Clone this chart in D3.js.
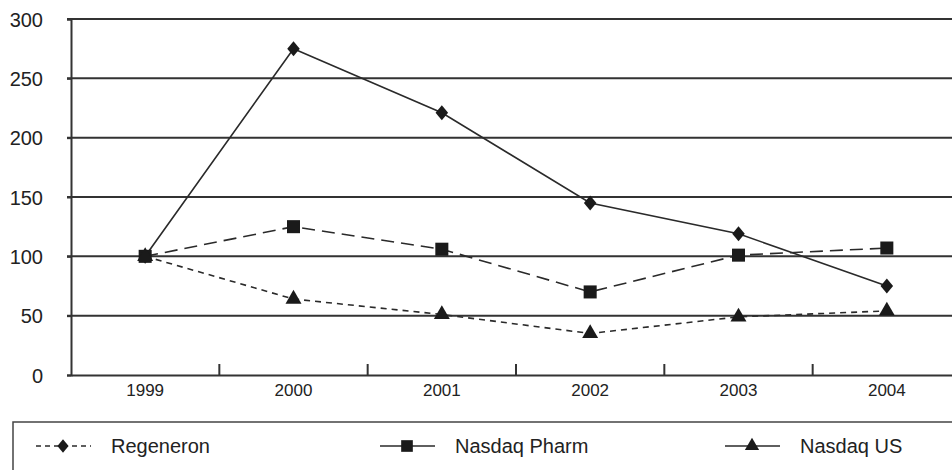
<!DOCTYPE html>
<html>
<head>
<meta charset="utf-8">
<script src="https://cdn.jsdelivr.net/npm/d3@7.9.0/dist/d3.min.js"></script>
<style>
  body { margin: 0; background: #fff; }
  svg { display: block; font-family: 'Liberation Sans', Arial, sans-serif; }
</style>
</head>
<body>
<svg id="chart" width="952" height="470"></svg>
<script>
// values
const years = ['1999', '2000', '2001', '2002', '2003', '2004'];
const regeneron = [100, 275, 221, 145, 119, 75];
const nasdaqPharm = [100, 125, 106, 70, 101, 107];
const nasdaqUS = [100, 64, 51, 35, 49, 54];
const yTicks = [0, 50, 100, 150, 200, 250, 300];

// the legend's line styles differ from the plot in the original, kept as drawn
const series = [
  { name: 'Regeneron', values: regeneron, symbol: d3.symbolDiamond2, size: 100, sy: 1.2, dash: null, legendDash: '5,4' },
  { name: 'Nasdaq Pharm', values: nasdaqPharm, symbol: d3.symbolSquare, size: 170, sy: 1, dash: '13,7', legendDash: null },
  { name: 'Nasdaq US', values: nasdaqUS, symbol: d3.symbolTriangle, size: 110, sy: 1, dash: '6,5', legendDash: null },
];

const ink = '#2a2a2a';
const svg = d3.select('#chart');

const x = d3.scaleBand().domain(years).range([71, 961]).padding(0);
const y = d3.scaleLinear().domain([0, 300]).range([375, 19]);

// gridlines
svg.append('g')
  .selectAll('line')
  .data(yTicks.filter((d) => d > 0))
  .join('line')
  .attr('x1', 67)
  .attr('x2', 952)
  .attr('y1', (d) => y(d))
  .attr('y2', (d) => y(d))
  .attr('stroke', '#333')
  .attr('stroke-width', 2);

// y axis
const yAxis = svg.append('g')
  .attr('transform', 'translate(71,0)')
  .call(d3.axisLeft(y).tickValues(yTicks).tickSize(4).tickPadding(24));
yAxis.select('.domain').attr('stroke', '#333').attr('stroke-width', 2);
yAxis.selectAll('.tick line').attr('stroke', '#333').attr('stroke-width', 2);
yAxis.selectAll('.tick text')
  .attr('fill', '#222')
  .style('font-size', '20px')
  .attr('dy', '0.36em');

// x axis: ticks between categories, pointing up
const xAxis = svg.append('g')
  .attr('transform', 'translate(0,375)')
  .call(d3.axisBottom(x).tickSize(0).tickPadding(10));
xAxis.select('.domain').attr('stroke', '#333').attr('stroke-width', 2);
xAxis.selectAll('.tick text')
  .attr('fill', '#222')
  .style('font-size', '17px')
  .attr('dy', '0.66em');
svg.append('g')
  .selectAll('line')
  .data(years.slice(1))
  .join('line')
  .attr('x1', (d) => x(d))
  .attr('x2', (d) => x(d))
  .attr('y1', 375)
  .attr('y2', 364)
  .attr('stroke', '#333')
  .attr('stroke-width', 2);

const cx = (d, i) => x(years[i]) + x.bandwidth() / 2;
const line = d3.line().x(cx).y((d) => y(d));

series.forEach((s) => {
  svg.append('path')
    .datum(s.values)
    .attr('d', line)
    .attr('fill', 'none')
    .attr('stroke', ink)
    .attr('stroke-width', 1.6)
    .attr('stroke-dasharray', s.dash);
});

series.forEach((s) => {
  svg.append('g')
    .selectAll('path')
    .data(s.values)
    .join('path')
    .attr('transform', (d, i) => `translate(${cx(d, i)},${y(d)}) scale(1,${s.sy})`)
    .attr('d', d3.symbol().type(s.symbol).size(s.size))
    .attr('fill', '#1a1a1a');
});

// legend
svg.append('rect')
  .attr('x', 13)
  .attr('y', 422)
  .attr('width', 960)
  .attr('height', 60)
  .attr('fill', 'none')
  .attr('stroke', '#444')
  .attr('stroke-width', 1.5);

const legendX = [36, 380, 725];
const legendY = 446;
series.forEach((s, i) => {
  const g = svg.append('g').attr('transform', `translate(${legendX[i]},${legendY})`);
  g.append('line')
    .attr('x1', 0)
    .attr('x2', 55)
    .attr('stroke', ink)
    .attr('stroke-width', 1.6)
    .attr('stroke-dasharray', s.legendDash);
  g.append('path')
    .attr('transform', `translate(27,0) scale(1,${s.sy})`)
    .attr('d', d3.symbol().type(s.symbol).size(s.size * 0.8))
    .attr('fill', '#1a1a1a');
  g.append('text')
    .attr('x', 75)
    .attr('dy', '0.35em')
    .attr('fill', '#222')
    .style('font-size', '20px')
    .text(s.name);
});
</script>
</body>
</html>
